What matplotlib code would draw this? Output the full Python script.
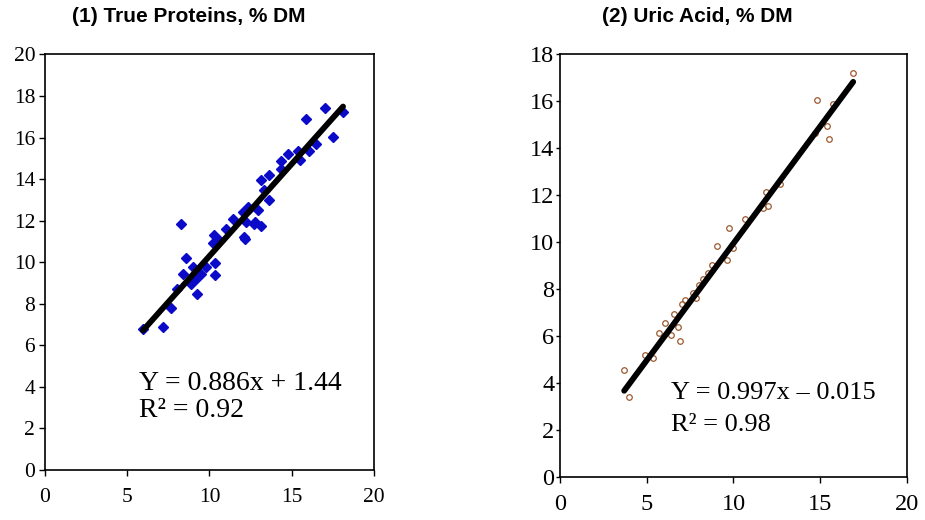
import numpy as np
import matplotlib
matplotlib.use("Agg")
import matplotlib.pyplot as plt

# (1) True proteins, % DM
prot_x = [5.96, 7.17, 7.68, 8.05, 8.28, 8.59, 8.38, 8.85, 8.99, 9.23, 9.19, 9.49, 9.80,
          10.34, 10.36, 10.24, 10.30, 10.60, 11.00, 11.41, 12.02, 12.12, 12.18, 12.22,
          12.32, 12.42, 12.73, 12.79, 12.93, 13.13, 13.13, 13.33, 13.64, 13.64, 14.34,
          14.34, 14.75, 15.41, 15.50, 15.86, 16.02, 16.50, 17.03, 17.53, 18.12]
prot_y = [6.81, 6.86, 7.82, 8.70, 11.86, 10.18, 9.42, 8.97, 9.78, 8.49, 9.17, 9.42, 9.78,
          9.38, 9.97, 10.93, 11.30, 11.09, 11.62, 12.07, 12.42, 11.22, 11.14, 11.94,
          12.66, 12.58, 11.86, 11.94, 12.50, 11.73, 13.97, 13.49, 12.98, 14.18, 14.50,
          14.87, 15.19, 15.34, 14.94, 16.91, 15.34, 15.70, 17.44, 16.03, 17.23]
prot_fit = (0.886, 1.44)
prot_range = [5.96, 18.12]

# (2) Uric acid, % DM
uric_x = [3.69, 3.99, 4.90, 5.38, 5.72, 6.05, 6.38, 6.57, 6.82, 6.92, 7.01, 7.20, 7.68,
          7.85, 8.03, 8.26, 8.55, 8.74, 9.03, 9.61, 9.76, 10.00, 10.66, 11.70, 11.87,
          12.00, 12.68, 14.71, 14.79, 15.37, 15.52, 15.75, 16.87]
uric_y = [4.55, 3.42, 5.19, 5.05, 6.14, 6.57, 6.04, 6.94, 6.40, 5.80, 7.36, 7.56, 7.82,
          7.61, 8.17, 8.45, 8.69, 9.02, 9.83, 9.26, 10.62, 9.74, 10.98, 11.44, 12.14,
          11.55, 12.50, 14.65, 16.07, 14.94, 14.41, 15.87, 17.20]
uric_fit = (0.997, -0.015)
uric_range = [3.70, 16.90]

serif = "Liberation Serif"
sans = "Liberation Sans"

fig = plt.figure(figsize=(9.25, 5.2), dpi=100)
ax1 = fig.add_axes([0.0486, 0.0962, 0.3557, 0.799])
ax2 = fig.add_axes([0.6054, 0.0827, 0.3751, 0.8125])

# left panel
ax1.plot(prot_x, prot_y, linestyle="none", marker="D", markersize=5.5,
         color="#0a0ac8", zorder=2)
fx = np.array(prot_range)
ax1.plot(fx, prot_fit[0] * fx + prot_fit[1], color="black", lw=4.2,
         solid_capstyle="round", zorder=3)
ax1.set_xlim(0, 20)
ax1.set_ylim(0, 20)
ax1.set_xticks(np.arange(0, 21, 5))
ax1.set_yticks(np.arange(0, 21, 2))
ax1.tick_params(axis="y", length=4, width=1, pad=3, labelsize=15.5)
ax1.tick_params(axis="x", length=4, width=1, pad=9, labelsize=15.5)
ax1.text(5.7, 4.18, "Y = 0.886x + 1.44", family=serif, fontsize=20, va="center")
ax1.text(5.7, 2.88, "R² = 0.92", family=serif, fontsize=20, va="center")

# right panel
ax2.plot(uric_x, uric_y, linestyle="none", marker="o", markersize=4,
         markerfacecolor="none", markeredgecolor="#9c5a2e", markeredgewidth=0.9,
         zorder=2)
fx = np.array(uric_range)
ax2.plot(fx, uric_fit[0] * fx + uric_fit[1], color="black", lw=4.2,
         solid_capstyle="round", zorder=3)
ax2.set_xlim(0, 20)
ax2.set_ylim(0, 18)
ax2.set_xticks(np.arange(0, 21, 5))
ax2.set_yticks(np.arange(0, 19, 2))
ax2.tick_params(axis="y", length=3, width=1, pad=1, labelsize=17.5)
ax2.tick_params(axis="x", length=4, width=1, pad=8, labelsize=17.5)
ax2.text(6.4, 3.57, "Y = 0.997x – 0.015", family=serif, fontsize=19, va="center")
ax2.text(6.4, 2.21, "R² = 0.98", family=serif, fontsize=19, va="center")

for ax in (ax1, ax2):
    for lab in ax.get_xticklabels() + ax.get_yticklabels():
        lab.set_family(serif)
    for sp in ax.spines.values():
        sp.set_linewidth(1.2)

fig.text(189 / 925, 1 - 16 / 520, "(1) True Proteins, % DM", family=sans,
         fontweight="bold", fontsize=15, ha="center", va="center")
fig.text(697 / 925, 1 - 16 / 520, "(2) Uric Acid, % DM", family=sans,
         fontweight="bold", fontsize=15, ha="center", va="center")

fig.savefig("out.png", dpi=100)
